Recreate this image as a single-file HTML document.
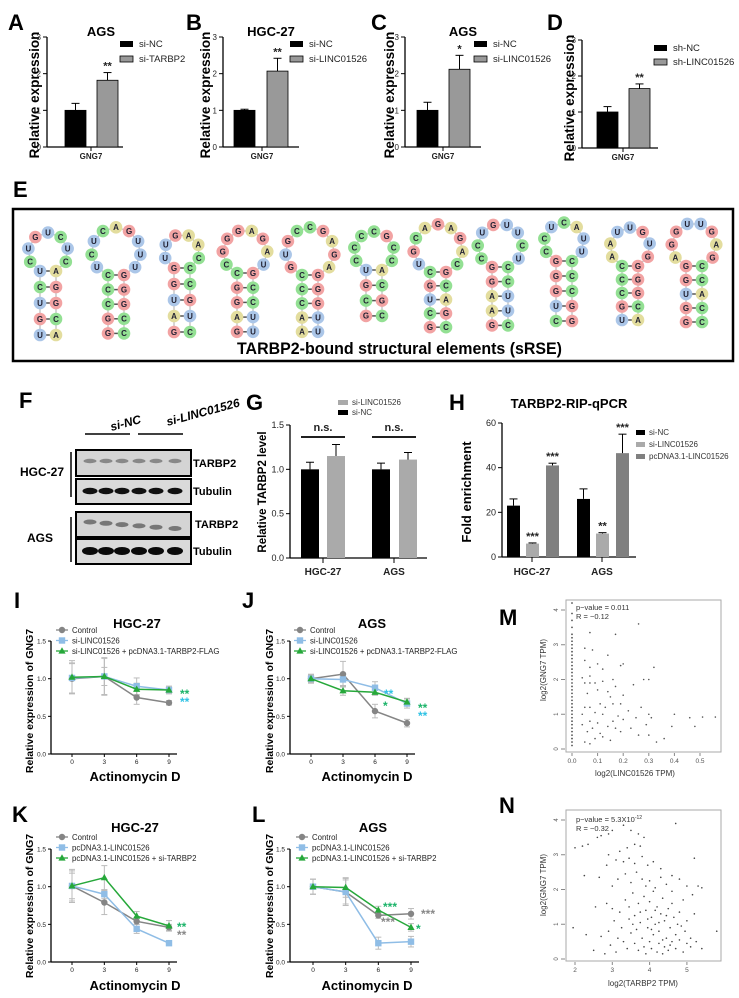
<!DOCTYPE html>
<html><head><meta charset="utf-8"><style>
html,body{margin:0;padding:0;background:#fff;}
svg{display:block;font-family:"Liberation Sans",Arial,sans-serif;}
.lt{font-weight:bold;font-size:22px;}
.tt{font-weight:bold;font-size:13px;text-anchor:middle;}
.yt{font-weight:bold;text-anchor:middle;}
.lg{font-size:9.5px;fill:#222;}
.sm{font-size:8px;fill:#333;}
</style></head><body>
<svg id="fig" width="739" height="998" viewBox="0 0 739 998" xmlns="http://www.w3.org/2000/svg">
<text class="lt" x="8" y="30">A</text>
<text class="lt" x="186" y="30">B</text>
<text class="lt" x="371" y="30">C</text>
<text class="lt" x="547" y="30">D</text>
<text class="lt" x="13" y="197">E</text>
<text class="lt" x="19" y="408">F</text>
<text class="lt" x="246" y="410">G</text>
<text class="lt" x="449" y="410">H</text>
<text class="lt" x="14" y="608">I</text>
<text class="lt" x="242" y="608">J</text>
<text class="lt" x="12" y="822">K</text>
<text class="lt" x="252" y="822">L</text>
<text class="lt" x="499" y="625">M</text>
<text class="lt" x="499" y="813">N</text>

<text class="tt" x="101" y="36">AGS</text>
<text class="tt" x="271" y="36">HGC-27</text>
<text class="tt" x="463" y="36">AGS</text>
<g>
<rect x="120" y="41" width="13" height="6" fill="#000"/><text class="lg" x="139" y="47">si-NC</text>
<rect x="120" y="56" width="13" height="6" fill="#999" stroke="#000" stroke-width="0.8"/><text class="lg" x="139" y="62">si-TARBP2</text></g>
<g>
<rect x="290" y="41" width="13" height="6" fill="#000"/><text class="lg" x="309" y="47">si-NC</text>
<rect x="290" y="56" width="13" height="6" fill="#999" stroke="#000" stroke-width="0.8"/><text class="lg" x="309" y="62">si-LINC01526</text></g>
<g>
<rect x="474" y="41" width="13" height="6" fill="#000"/><text class="lg" x="493" y="47">si-NC</text>
<rect x="474" y="56" width="13" height="6" fill="#999" stroke="#000" stroke-width="0.8"/><text class="lg" x="493" y="62">si-LINC01526</text></g>
<g>
<rect x="654" y="45" width="13" height="6" fill="#000"/><text class="lg" x="673" y="51">sh-NC</text>
<rect x="654" y="59" width="13" height="6" fill="#999" stroke="#000" stroke-width="0.8"/><text class="lg" x="673" y="65">sh-LINC01526</text></g>
<text class="yt" font-size="13.5" transform="translate(39,95) rotate(-90)">Relative expression</text>
<text class="yt" font-size="13.5" transform="translate(210,95) rotate(-90)">Relative expression</text>
<text class="yt" font-size="13.5" transform="translate(394,95) rotate(-90)">Relative expression</text>
<text class="yt" font-size="13.5" transform="translate(574,98) rotate(-90)">Relative expression</text>

<rect x="13" y="209" width="720" height="152" fill="none" stroke="#000" stroke-width="2.5"/>
<text x="237" y="354" font-weight="bold" font-size="17" textLength="325" lengthAdjust="spacingAndGlyphs">TARBP2-bound structural elements (sRSE)</text>
<g id="hp"></g>

<g>
<text x="110" y="428" font-size="12" font-style="italic" font-weight="bold" transform="rotate(-15 122 424)">si-NC</text>
<text x="165" y="418" font-size="12" font-style="italic" font-weight="bold" transform="rotate(-15 196 412)">si-LINC01526</text>
<line x1="85" y1="434" x2="130" y2="434" stroke="#000" stroke-width="1.5"/>
<line x1="138" y1="434" x2="183" y2="434" stroke="#000" stroke-width="1.5"/>
<line x1="71" y1="452" x2="71" y2="497" stroke="#000" stroke-width="1.5"/>
<line x1="71" y1="517" x2="71" y2="562" stroke="#000" stroke-width="1.5"/>
<text x="42" y="476" font-size="12" font-weight="bold" text-anchor="middle">HGC-27</text>
<text x="40" y="542" font-size="12" font-weight="bold" text-anchor="middle">AGS</text>
<rect x="76" y="450" width="115" height="26" fill="#d4d4d4" stroke="#000" stroke-width="2"/>
<rect x="76" y="479" width="115" height="25" fill="#dadada" stroke="#000" stroke-width="2"/>
<rect x="76" y="512" width="115" height="25" fill="#d4d4d4" stroke="#000" stroke-width="2"/>
<rect x="76" y="539" width="115" height="25" fill="#dadada" stroke="#000" stroke-width="2"/>
<text x="193" y="467" font-size="11" font-weight="bold">TARBP2</text>
<text x="193" y="495" font-size="11" font-weight="bold">Tubulin</text>
<text x="195" y="528" font-size="11" font-weight="bold">TARBP2</text>
<text x="193" y="555" font-size="11" font-weight="bold">Tubulin</text>
<g id="bands"></g>
</g>

<g>
<rect x="338" y="400" width="10" height="5" fill="#aaa"/><text class="sm" x="352" y="405">si-LINC01526</text>
<rect x="338" y="410" width="10" height="5" fill="#000"/><text class="sm" x="352" y="415">si-NC</text></g>
<text class="yt" font-size="11.5" transform="translate(266,492) rotate(-90)">Relative TARBP2 level</text>
<text class="tt" x="569" y="408" font-size="13">TARBP2-RIP-qPCR</text>
<text class="yt" font-size="13" transform="translate(471,492) rotate(-90)">Fold enrichment</text>
<g>
<rect x="636" y="430" width="9" height="5" fill="#000"/><text class="sm" x="649" y="435">si-NC</text>
<rect x="636" y="442" width="9" height="5" fill="#aaa"/><text class="sm" x="649" y="447">si-LINC01526</text>
<rect x="636" y="454" width="9" height="5" fill="#808080"/><text class="sm" x="649" y="459">pcDNA3.1-LINC01526</text></g>

<text class="tt" x="137" y="628" font-size="14">HGC-27</text>
<text class="tt" x="372" y="628" font-size="14">AGS</text>
<text class="tt" x="135" y="832" font-size="14">HGC-27</text>
<text class="tt" x="373" y="832" font-size="14">AGS</text>
<text class="yt" font-size="10.5" transform="translate(33,701) rotate(-90)">Relative expression of GNG7</text>
<text class="yt" font-size="10.5" transform="translate(273,701) rotate(-90)">Relative expression of GNG7</text>
<text class="yt" font-size="10.5" transform="translate(33,906) rotate(-90)">Relative expression of GNG7</text>
<text class="yt" font-size="10.5" transform="translate(273,906) rotate(-90)">Relative expression of GNG7</text>
<text class="tt" x="135" y="781" font-size="13.5">Actinomycin D</text>
<text class="tt" x="367" y="781" font-size="13.5">Actinomycin D</text>
<text class="tt" x="135" y="990" font-size="13.5">Actinomycin D</text>
<text class="tt" x="367" y="990" font-size="13.5">Actinomycin D</text>

<rect x="566" y="600" width="155" height="152" fill="none" stroke="#aaa"/>
<rect x="566" y="810" width="155" height="151" fill="none" stroke="#aaa"/>
<text x="576" y="610" font-size="7.5" fill="#333">p−value = 0.011</text>
<text x="576" y="619" font-size="7.5" fill="#333">R = −0.12</text>
<text x="576" y="822" font-size="7.5" fill="#333">p−value = 5.3X10<tspan font-size="5" dy="-3">-12</tspan></text>
<text x="576" y="831" font-size="7.5" fill="#333">R = −0.32</text>
<text x="635" y="776" font-size="8" fill="#333" text-anchor="middle">log2(LINC01526 TPM)</text>
<text x="643" y="986" font-size="8" fill="#333" text-anchor="middle">log2(TARBP2 TPM)</text>
<text font-size="8" fill="#333" text-anchor="middle" transform="translate(546,670) rotate(-90)">log2(GNG7 TPM)</text>
<text font-size="8" fill="#333" text-anchor="middle" transform="translate(546,885) rotate(-90)">log2(GNG7 TPM)</text>
</svg>
<script>
const NS='http://www.w3.org/2000/svg';
const svg=document.getElementById('fig');
function mk(tag,attrs,name,parent){const e=document.createElementNS(NS,tag);for(const k in attrs)e.setAttribute(k,attrs[k]);


(parent||svg).appendChild(e);return e;}
function tx(x,y,s,size,anchor,name,extra){const e=mk('text',Object.assign({x:x,y:y,'font-size':size,'text-anchor':anchor||'middle',fill:'#222'},extra||{}),name);e.textContent=s;return e;}

const abCats=['si-NC','treatment'];
const aValues=[1.00,1.82]; const aErr=[0.19,0.21];
const bValues=[1.00,2.07]; const bErr=[0.03,0.35];
const cValues=[1.00,2.12]; const cErr=[0.22,0.38];
const dValues=[1.00,1.65]; const dErr=[0.15,0.13];
const abTicks=[0,1,2,3];
const aStars='**', bStars='**', cStars='*', dStars='**';

function barPanel(p,vals,errs,ticks,stars,id){
  const y=v=>p.y0-(v-p.min)/(p.max-p.min)*(p.y0-p.y1);
  mk('line',{x1:p.ax,y1:p.y1,x2:p.ax,y2:p.y0,stroke:'#000','stroke-width':1.3},'y-axis-'+id);
  mk('line',{x1:p.ax,y1:p.y0,x2:p.xe,y2:p.y0,stroke:'#000','stroke-width':1.3},'x-axis-'+id);
  ticks.forEach(t=>{mk('line',{x1:p.ax-4,y1:y(t),x2:p.ax,y2:y(t),stroke:'#000'},'y-tick-'+id);
    tx(p.ax-6,y(t)+3,p.fmt?p.fmt(t):String(t),p.tf||8,'end','y-tick-label-'+id);});
  vals.forEach((v,i)=>{
    const x=p.bx[i];
    mk('rect',{x:x,y:y(v),width:p.bw,height:p.y0-y(v),fill:p.colors[i],stroke:p.stroke||'none','stroke-width':0.8},'bar-'+id+'-'+i);
    const top=y(v+errs[i]);
    mk('line',{x1:x+p.bw/2,y1:y(v),x2:x+p.bw/2,y2:top,stroke:'#000','stroke-width':1},'error-bar-'+id+'-'+i);
    mk('line',{x1:x+p.bw/2-4,y1:top,x2:x+p.bw/2+4,y2:top,stroke:'#000','stroke-width':1},'error-cap-'+id+'-'+i);
    if(stars&&stars[i]) tx(x+p.bw/2,top-3,stars[i],11,'middle','significance-'+id+'-'+i,{'font-weight':'bold'});
  });
}
const AD=[
 {id:'a',ax:47,bx:[65,97],lx:91,vals:aValues,errs:aErr,st:aStars},
 {id:'b',ax:223,bx:[234,267],lx:262,vals:bValues,errs:bErr,st:bStars},
 {id:'c',ax:405,bx:[417,449],lx:443,vals:cValues,errs:cErr,st:cStars},
 {id:'d',ax:582,bx:[597,629],lx:623,vals:dValues,errs:dErr,st:dStars}];
AD.forEach(q=>{
  const y1=q.id==='d'?40:37, y0=q.id==='d'?148:147;
  barPanel({ax:q.ax,xe:q.ax+76,y0:y0,y1:y1,min:0,max:3,bx:q.bx,bw:21,colors:['#000','#999'],stroke:'#000'},q.vals,q.errs,abTicks,['',q.st],q.id);
  mk('line',{x1:q.lx,y1:y0,x2:q.lx,y2:y0+4,stroke:'#000'},'x-tick-'+q.id);
  tx(q.lx,y0+12,'GNG7',8,'middle','x-label-'+q.id,{'font-weight':'bold'});
});

const gCats=['HGC-27','AGS'];
const gNC=[1.00,1.00]; const gNCerr=[0.08,0.07];
const gSi=[1.15,1.11]; const gSiErr=[0.13,0.08];
const gTicks=[0,0.5,1.0,1.5];
(function(){
  const p={ax:290,xe:427,y0:558,y1:425,min:0,max:1.5,bx:[301,327,372,399],bw:18,colors:['#000','#aaa','#000','#aaa'],tf:9,fmt:t=>t.toFixed(1)};
  barPanel(p,[gNC[0],gSi[0],gNC[1],gSi[1]],[gNCerr[0],gSiErr[0],gNCerr[1],gSiErr[1]],gTicks,null,'g');
  [323,394].forEach((cx,i)=>{mk('line',{x1:cx,y1:558,x2:cx,y2:563,stroke:'#000'},'x-tick-g');
    tx(cx,575,gCats[i],10,'middle','x-label-g-'+i,{'font-weight':'bold'});
    mk('line',{x1:cx-22,y1:437,x2:cx+22,y2:437,stroke:'#000','stroke-width':1.8},'ns-bracket-g-'+i);
    tx(cx,431,'n.s.',11,'middle','ns-label-g-'+i,{'font-weight':'bold'});});
})();

const hCats=['HGC-27','AGS'];
const hNC=[23,26]; const hNCerr=[3,4.5];
const hSi=[6,10.5]; const hSiErr=[0.3,0.4];
const hPc=[41,46.5]; const hPcErr=[1,8.5];
const hTicks=[0,20,40,60];
const hStars=['','***','***','','**','***'];
(function(){
  const p={ax:502,xe:636,y0:557,y1:423,min:0,max:60,bx:[507,526,546,577,596,616],bw:13,colors:['#000','#aaa','#808080','#000','#aaa','#808080'],tf:9};
  barPanel(p,[hNC[0],hSi[0],hPc[0],hNC[1],hSi[1],hPc[1]],[hNCerr[0],hSiErr[0],hPcErr[0],hNCerr[1],hSiErr[1],hPcErr[1]],hTicks,hStars,'h');
  [532,602].forEach((cx,i)=>{mk('line',{x1:cx,y1:557,x2:cx,y2:562,stroke:'#000'},'x-tick-h');
    tx(cx,575,hCats[i],10,'middle','x-label-h-'+i,{'font-weight':'bold'});});
})();

const laneX=[90,106,122,139,156,175];
const bandG=document.getElementById('bands');
const bandRows=[{y:461,ry:2.2,c:'#888',rx:6.5},{y:491,ry:3.2,c:'#111',rx:7.5},{y:522,ry:2.5,c:'#777',rx:6.5},{y:551,ry:4,c:'#0a0a0a',rx:8}];
bandRows.forEach((r,ri)=>laneX.forEach((x,i)=>{
  const dy=ri===2?i*1.3:0;
  mk('ellipse',{cx:x,cy:r.y+dy,rx:r.rx,ry:r.ry,fill:r.c},'band',bandG);}));

const hpX=[48,116,182,245,310,374,438,500,564,630,694];
const hpTop=[271,275,268,273,275,270,272,267,261,266,266];
const hpSp=[16,14.6,16,14.7,14.2,15.3,13.8,14.6,15,13.5,14];
const hpLoop=['CUGUCUC','UCUCAGUUU','UUGAAC','CGGGAGAU','GUGCCGAGA','CCCCGCC','UGCAGAGAC','CCUGUUCU','CCUCAUU','AAUUGUG','AGGUUGAG'];
const hpStem=['UA,CG,UG,GC,UA','CG,CG,CG,GC,GC','GC,GC,UG,AU,GC','CG,GC,GC,AU,GU','CG,CG,CG,AU,AU','UA,GC,CG,GC','CG,GC,UA,CG,GC','GC,GC,AU,AU,GC','GC,GC,GC,UG,CG','CG,CG,CG,GC,UA','GC,GC,UA,GC,GC'];
const ntCol={G:'#f2a3a3',C:'#93e093',U:'#abc6e8',A:'#e3dd9e'};
const hpG=document.getElementById('hp');
function nt(x,y,ch){mk('circle',{cx:x,cy:y,r:6.3,fill:ntCol[ch]},'nucleotide',hpG);
  const t=mk('text',{x:x,y:y+2.8,'font-size':8,'font-weight':'bold','text-anchor':'middle',fill:'#223'},'nucleotide-letter',hpG);t.textContent=ch;}
hpX.forEach((cx,h)=>{
  const pairs=hpStem[h].split(','), top=hpTop[h], loop=hpLoop[h], sp=hpSp[h];
  const n=loop.length, R=(n+2)*14/(2*Math.PI), cy=top-Math.sqrt(Math.max(R*R-64,1));
  const aL=Math.atan2(top-cy,-8), aR=Math.atan2(top-cy,8);
  const start=aL, total=2*Math.PI-(aL-aR);
  const pts=[];for(let i=1;i<=n;i++){const a=start+total*i/(n+1);pts.push([cx+R*Math.cos(a),cy+R*Math.sin(a)]);}
  mk('polyline',{points:[[cx-8,top+sp*(pairs.length-1)],[cx-8,top]].concat(pts).concat([[cx+8,top],[cx+8,top+sp*(pairs.length-1)]]).map(p=>p.join(',')).join(' '),fill:'none',stroke:'#bbb','stroke-width':1.2},'backbone',hpG);
  pairs.forEach((pr,i)=>{const y=top+sp*i;mk('line',{x1:cx-2,y1:y,x2:cx+2,y2:y,stroke:'#555','stroke-width':1.5},'base-pair-bond',hpG);nt(cx-8,y,pr[0]);nt(cx+8,y,pr[1]);});
  pts.forEach((p,i)=>nt(p[0],p[1],loop[i]));
});

const times=[0,3,6,9];
const lTicks=[0,0.5,1.0,1.5];
const iCtrl=[1.00,1.03,0.75,0.68], iCtrlErr=[0.20,0.25,0.09,0.03];
const iSi=[1.01,1.03,0.90,0.85], iSiErr=[0.20,0.12,0.11,0.05];
const iGr=[1.02,1.03,0.86,0.85], iGrErr=[0.22,0.24,0.08,0.05];
const jCtrl=[1.00,1.06,0.57,0.41], jCtrlErr=[0.06,0.17,0.09,0.05];
const jSi=[1.00,0.99,0.88,0.67], jSiErr=[0.05,0.08,0.08,0.06];
const jGr=[1.00,0.84,0.82,0.69], jGrErr=[0.04,0.06,0.04,0.05];
const kCtrl=[1.01,0.79,0.54,0.46], kCtrlErr=[0.20,0.16,0.04,0.04];
const kBl=[1.01,0.90,0.44,0.25], kBlErr=[0.17,0.06,0.06,0.02];
const kGr=[1.01,1.12,0.61,0.48], kGrErr=[0.22,0.16,0.06,0.07];
const lCtrl=[1.00,0.93,0.62,0.64], lCtrlErr=[0.10,0.18,0.04,0.07];
const lBl=[1.00,0.93,0.25,0.27], lBlErr=[0.10,0.16,0.08,0.07];
const lGr=[1.00,0.99,0.69,0.46], lGrErr=[0.10,0.13,0.05,0.05];
const legIJ=['Control','si-LINC01526','si-LINC01526 + pcDNA3.1-TARBP2-FLAG'];
const legKL=['Control','pcDNA3.1-LINC01526','pcDNA3.1-LINC01526 + si-TARBP2'];
const COL=['#858585','#8fbde6','#26a83a'];

function marker(x,y,k,name){
  if(k===0) mk('circle',{cx:x,cy:y,r:3.2,fill:COL[0]},name);
  else if(k===1) mk('rect',{x:x-3.2,y:y-3.2,width:6.4,height:6.4,fill:COL[1]},name);
  else mk('path',{d:`M${x},${y-3.8}L${x+3.6},${y+2.6}L${x-3.6},${y+2.6}Z`,fill:COL[2]},name);
}
function linePanel(p,series,errs,legend,id,stars){
  const X=t=>p.x0+t*(p.x9-p.x0)/9, Y=v=>p.y0-v*p.sc;
  mk('line',{x1:p.ax,y1:Y(1.5),x2:p.ax,y2:p.y0,stroke:'#000','stroke-width':1.3},'y-axis-'+id);
  mk('line',{x1:p.ax,y1:p.y0,x2:X(9)+8,y2:p.y0,stroke:'#000','stroke-width':1.3},'x-axis-'+id);
  lTicks.forEach(t=>{mk('line',{x1:p.ax-3,y1:Y(t),x2:p.ax,y2:Y(t),stroke:'#000'},'y-tick-'+id);
    tx(p.ax-5,Y(t)+2.5,t.toFixed(1),6.5,'end','y-tick-label-'+id);});
  times.forEach(t=>{mk('line',{x1:X(t),y1:p.y0,x2:X(t),y2:p.y0+3,stroke:'#000'},'x-tick-'+id);
    tx(X(t),p.y0+10,String(t),6.5,'middle','x-tick-label-'+id);});
  series.forEach((s,k)=>{
    s.forEach((v,i)=>{const e=errs[k][i];
      mk('line',{x1:X(times[i]),y1:Y(v-e),x2:X(times[i]),y2:Y(v+e),stroke:'#bbb','stroke-width':1},'error-bar-'+id);
      mk('line',{x1:X(times[i])-3,y1:Y(v+e),x2:X(times[i])+3,y2:Y(v+e),stroke:'#bbb'},'error-cap-'+id);
      mk('line',{x1:X(times[i])-3,y1:Y(v-e),x2:X(times[i])+3,y2:Y(v-e),stroke:'#bbb'},'error-cap-'+id);});
  });
  series.forEach((s,k)=>{
    mk('polyline',{points:s.map((v,i)=>X(times[i])+','+Y(v)).join(' '),fill:'none',stroke:COL[k],'stroke-width':1.5},'line-'+id+'-'+k);
    s.forEach((v,i)=>marker(X(times[i]),Y(v),k,'point-'+id+'-'+k));
  });
  legend.forEach((s,k)=>{const ly=p.ly+k*10.5;
    mk('line',{x1:p.lx-6,y1:ly,x2:p.lx+6,y2:ly,stroke:COL[k],'stroke-width':1.3},'legend-line-'+id);
    marker(p.lx,ly,k,'legend-marker-'+id);
    tx(p.lx+10,ly+3,s,7.8,'start','legend-entry-'+id);});
  stars.forEach(s=>tx(s[0],s[1],s[2],12,'start','significance-'+id,{fill:s[3],'font-weight':'bold'}));
}
linePanel({ax:51,x0:72,x9:169,y0:754,sc:75.3,lx:62,ly:630},[iCtrl,iSi,iGr],[iCtrlErr,iSiErr,iGrErr],legIJ,'i',
  [[180,698,'**','#1db46a'],[180,706,'**','#2fc2e4']]);
linePanel({ax:290,x0:311,x9:407,y0:754,sc:75.3,lx:300,ly:630},[jCtrl,jSi,jGr],[jCtrlErr,jSiErr,jGrErr],legIJ,'j',
  [[384,698,'**','#2fc2e4'],[383,710,'*','#1db46a'],[418,712,'**','#1db46a'],[418,720,'**','#2fc2e4']]);
linePanel({ax:51,x0:72,x9:169,y0:962,sc:75.3,lx:62,ly:837},[kCtrl,kBl,kGr],[kCtrlErr,kBlErr,kGrErr],legKL,'k',
  [[177,931,'**','#1db46a'],[177,939,'**','#888']]);
linePanel({ax:290,x0:313,x9:411,y0:962,sc:75.3,lx:302,ly:837},[lCtrl,lBl,lGr],[lCtrlErr,lBlErr,lGrErr],legKL,'l',
  [[383,911,'***','#1db46a'],[421,918,'***','#888'],[381,926,'***','#888'],[416,933,'*','#1db46a']]);

const mX=[0.26,0.07,0.17,0.05,0.08,0.14,0.05,0.10,0.20,0.32,0.07,0.19,0.12,0.04,0.07,0.16,0.28,0.30,0.05,0.07,0.09,0.12,0.24,0.17,0.10,0.14,0.06,0.20,0.15,0.11,0.05,0.07,0.13,0.16,0.19,0.27,0.22,0.09,0.04,0.12,0.18,0.25,0.30,0.31,0.40,0.46,0.51,0.56,0.07,0.10,0.16,0.20,0.04,0.08,0.14,0.17,0.23,0.39,0.48,0.29,0.06,0.11,0.19,0.26,0.30,0.36,0.09,0.05,0.33,0.15,0.07,0.12];
const mY=[3.6,3.35,3.3,2.9,2.85,2.7,2.55,2.45,2.45,2.35,2.35,2.4,2.3,2.05,2.1,2.0,2.0,2.0,1.9,1.9,1.9,1.95,1.85,1.8,1.7,1.65,1.6,1.55,1.5,1.3,1.2,1.2,1.2,1.3,1.3,1.2,1.1,1.05,1.0,1.0,0.95,0.9,1.0,0.9,1.0,0.9,0.92,0.92,0.8,0.75,0.8,0.85,0.7,0.6,0.65,0.6,0.6,0.65,0.65,0.7,0.5,0.45,0.5,0.4,0.4,0.3,0.3,0.2,0.2,0.25,0.15,0.35];
const mZeroY=[0.1,0.2,0.3,0.4,0.5,0.6,0.7,0.8,0.9,1.0,1.1,1.2,1.3,1.4,1.5,1.6,1.7,1.8,1.9,2.0,2.1,2.2,2.3,2.4,2.5,2.6,2.7,2.8,2.9,3.0,3.1,3.2,3.3,3.5,3.7,3.9,4.2];
const mXTicks=[0.0,0.1,0.2,0.3,0.4,0.5];
const scYTicks=[0,1,2,3,4];
const nX=[2.0,2.2,2.35,2.6,2.7,2.9,3.0,3.3,3.5,3.7,3.85,4.7,3.2,2.9,3.4,3.6,3.75,2.25,2.65,2.85,3.1,3.3,3.45,3.6,3.8,3.95,4.1,4.3,4.6,5.2,5.3,5.4,2.55,2.85,3.0,3.15,3.35,3.5,3.65,3.8,3.9,4.0,4.15,4.3,4.45,4.6,4.8,5.0,5.15,1.95,2.3,2.7,2.9,3.05,3.2,3.35,3.45,3.55,3.6,3.7,3.75,3.85,3.9,3.95,4.0,4.05,4.1,4.15,4.2,4.25,4.3,4.35,4.4,4.45,4.5,4.55,4.6,4.65,4.7,4.8,4.85,4.9,5.0,5.1,5.2,5.25,5.4,5.8,2.5,2.8,3.1,3.3,3.4,3.5,3.6,3.7,3.8,3.85,3.9,4.0,4.05,4.1,4.2,4.25,4.35,4.4,4.5,4.6,4.7,4.8,4.9,5.0,5.1,3.55,3.65,3.75,3.95,4.05,4.15,4.25,4.35,4.45,4.55,3.25,3.15,3.45,4.75,4.95,3.0,2.95];
const nY=[3.2,3.25,3.3,3.5,3.55,3.6,3.7,3.85,3.7,3.6,3.5,3.9,3.1,3.0,3.2,3.3,3.25,2.4,2.35,2.7,2.85,2.8,2.9,2.75,2.95,2.7,2.8,2.6,2.4,2.9,2.1,2.05,1.5,1.6,2.1,2.3,2.45,2.2,2.5,2.3,2.1,2.25,2.05,2.35,2.15,1.95,2.3,2.1,1.85,0.9,0.7,0.65,0.8,1.1,1.35,1.7,1.5,1.9,1.25,1.6,1.05,1.8,1.4,0.9,1.65,1.2,1.95,1.0,1.5,0.8,1.3,1.75,1.1,0.6,1.45,0.9,1.6,1.2,0.7,1.35,0.95,1.7,1.1,0.6,1.3,0.5,0.3,0.8,0.25,0.15,0.2,0.5,0.3,0.75,0.45,0.25,0.6,0.35,0.15,0.5,0.3,0.7,0.2,0.45,0.15,0.35,0.25,0.5,0.3,0.55,0.2,0.45,0.35,1.0,0.85,1.35,1.15,0.85,1.4,1.05,0.55,1.25,0.4,0.9,0.6,1.15,1.0,0.8,1.45,0.4];
const nXTicks=[2,3,4,5];
function scatterAxes(xf,yf,xt,yt,id,fmt,xtY){
  yt.forEach(t=>{mk('line',{x1:561,y1:yf(t),x2:565,y2:yf(t),stroke:'#888'},'y-tick-'+id);
    tx(556,yf(t)+2,String(t),6,'middle','y-tick-label-'+id,{transform:`rotate(-90 556 ${yf(t)})`,fill:'#555'});});
  xt.forEach(t=>{mk('line',{x1:xf(t),y1:xtY,x2:xf(t),y2:xtY+3,stroke:'#888'},'x-tick-'+id);
    tx(xf(t),xtY+10,fmt(t),6.5,'middle','x-tick-label-'+id,{fill:'#555'});});
}
const xm=v=>572+v*256, ym=v=>749-v*34.75;
const xn=v=>575+(v-2)*37.3, yn=v=>959-v*34.75;
scatterAxes(xm,ym,mXTicks,scYTicks,'m',t=>t.toFixed(1),753);
scatterAxes(xn,yn,nXTicks,scYTicks,'n',t=>String(t),962);
mZeroY.forEach(v=>mk('circle',{cx:xm(0),cy:ym(v),r:0.9,fill:'#555'},'point-m'));
mX.forEach((v,i)=>mk('circle',{cx:xm(v),cy:ym(mY[i]),r:0.8,fill:'#555'},'point-m'));
nX.forEach((v,i)=>mk('circle',{cx:xn(v),cy:yn(nY[i]),r:0.8,fill:'#444'},'point-n'));
</script>
</body></html>
